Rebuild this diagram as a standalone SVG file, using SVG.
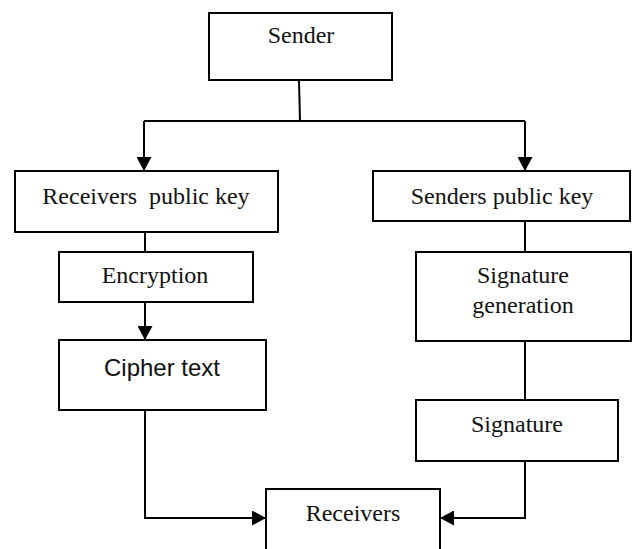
<svg xmlns="http://www.w3.org/2000/svg" width="633" height="549" viewBox="0 0 633 549">
<style>
.box{fill:#fff;stroke:#000;stroke-width:2}
.t{font-family:"Liberation Serif","Times New Roman",serif;font-size:24px;fill:#111;text-anchor:middle}
.s{font-family:"Liberation Sans",Arial,sans-serif;font-size:24px;fill:#111;text-anchor:middle}
.c{fill:none;stroke:#000;stroke-width:2}
</style>
<defs>
<marker id="ah" markerUnits="userSpaceOnUse" markerWidth="14" markerHeight="15" viewBox="0 0 14 15" refX="14" refY="7.5" orient="auto">
<path d="M0,0 L14,7.5 L0,15 Z" fill="#000"/>
</marker>
</defs>
<rect width="633" height="549" fill="#fff"/>
<g id="connectors">
<path class="c" d="M299,80 L300,121"/>
<path class="c" d="M144,121 L525,121"/>
<path class="c" d="M144,121 L144,171" marker-end="url(#ah)"/>
<path class="c" d="M525,121 L525,171" marker-end="url(#ah)"/>
<path class="c" d="M145,232 L145,252"/>
<path class="c" d="M145,302 L145,340" marker-end="url(#ah)"/>
<path class="c" d="M525,221 L525,252"/>
<path class="c" d="M525,341 L525,400"/>
<path class="c" d="M145,410 L145,518 L266,518" marker-end="url(#ah)"/>
<path class="c" d="M525,461 L525,518 L440,518" marker-end="url(#ah)"/>
</g>
<g id="sender"><rect class="box" x="209" y="13" width="183" height="67"/><text class="t" x="301" y="43">Sender</text></g>
<g id="receivers-public-key"><rect class="box" x="15" y="171" width="263" height="61"/><text class="t" x="146" y="204" xml:space="preserve">Receivers  public key</text></g>
<g id="senders-public-key"><rect class="box" x="373" y="171" width="257" height="50"/><text class="t" x="502" y="204">Senders public key</text></g>
<g id="encryption"><rect class="box" x="59" y="252" width="194" height="50"/><text class="t" x="155" y="283">Encryption</text></g>
<g id="cipher-text"><rect class="box" x="59" y="340" width="207" height="70"/><text class="s" x="162" y="376">Cipher text</text></g>
<g id="signature-generation"><rect class="box" x="416" y="252" width="215" height="89"/><text class="t" x="523" y="283">Signature</text><text class="t" x="523" y="313">generation</text></g>
<g id="signature"><rect class="box" x="416" y="400" width="202" height="61"/><text class="t" x="517" y="432">Signature</text></g>
<g id="receivers"><rect class="box" x="266" y="489" width="174" height="70"/><text class="t" x="353" y="521">Receivers</text></g>
</svg>
